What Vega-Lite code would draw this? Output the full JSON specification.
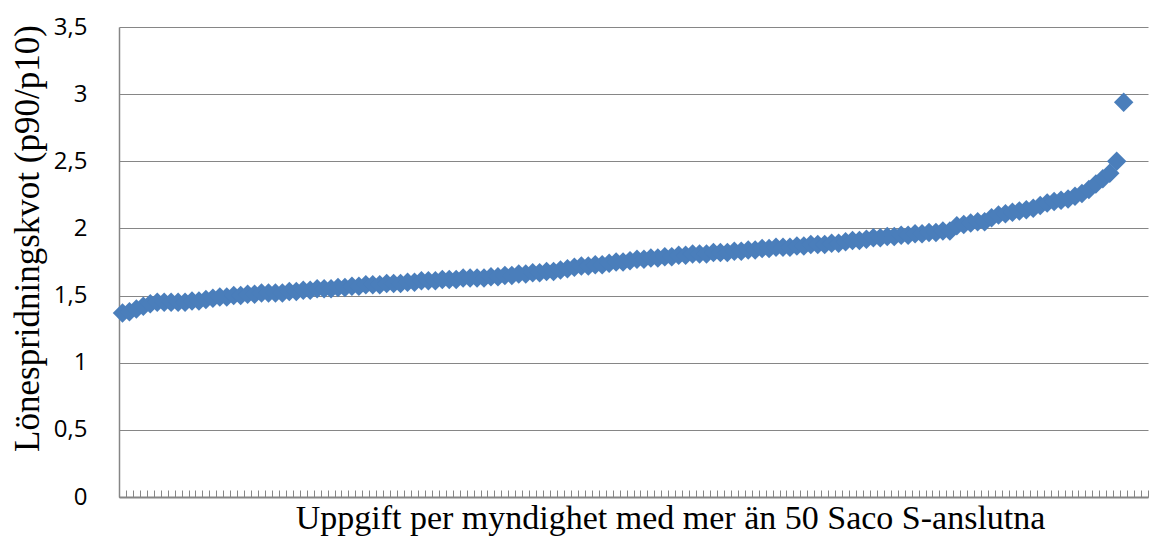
{
  "$schema": "https://vega.github.io/schema/vega-lite/v6.json",
  "autosize": {"type": "none"},
  "width": 1029,
  "height": 470,
  "padding": {"left": 119, "top": 27, "right": 3, "bottom": 41},
  "background": "white",
  "config": {"view": {"stroke": null}},
  "data": {"values": [
    {"i":1,"v":1.37},{"i":2,"v":1.38},{"i":3,"v":1.40},{"i":4,"v":1.42},{"i":5,"v":1.44},{"i":6,"v":1.45},{"i":7,"v":1.45},{"i":8,"v":1.45},{"i":9,"v":1.45},{"i":10,"v":1.45},
    {"i":11,"v":1.46},{"i":12,"v":1.46},{"i":13,"v":1.47},{"i":14,"v":1.48},{"i":15,"v":1.49},{"i":16,"v":1.49},{"i":17,"v":1.50},{"i":18,"v":1.50},{"i":19,"v":1.51},{"i":20,"v":1.51},
    {"i":21,"v":1.52},{"i":22,"v":1.52},{"i":23,"v":1.52},{"i":24,"v":1.52},{"i":25,"v":1.53},{"i":26,"v":1.53},{"i":27,"v":1.54},{"i":28,"v":1.54},{"i":29,"v":1.55},{"i":30,"v":1.55},
    {"i":31,"v":1.55},{"i":32,"v":1.56},{"i":33,"v":1.56},{"i":34,"v":1.57},{"i":35,"v":1.57},{"i":36,"v":1.58},{"i":37,"v":1.58},{"i":38,"v":1.58},{"i":39,"v":1.59},{"i":40,"v":1.59},
    {"i":41,"v":1.59},{"i":42,"v":1.60},{"i":43,"v":1.60},{"i":44,"v":1.61},{"i":45,"v":1.61},{"i":46,"v":1.61},{"i":47,"v":1.62},{"i":48,"v":1.62},{"i":49,"v":1.62},{"i":50,"v":1.63},
    {"i":51,"v":1.63},{"i":52,"v":1.63},{"i":53,"v":1.63},{"i":54,"v":1.64},{"i":55,"v":1.64},{"i":56,"v":1.65},{"i":57,"v":1.65},{"i":58,"v":1.66},{"i":59,"v":1.66},{"i":60,"v":1.67},
    {"i":61,"v":1.67},{"i":62,"v":1.68},{"i":63,"v":1.68},{"i":64,"v":1.69},{"i":65,"v":1.70},{"i":66,"v":1.71},{"i":67,"v":1.72},{"i":68,"v":1.72},{"i":69,"v":1.73},{"i":70,"v":1.73},
    {"i":71,"v":1.74},{"i":72,"v":1.75},{"i":73,"v":1.75},{"i":74,"v":1.76},{"i":75,"v":1.77},{"i":76,"v":1.77},{"i":77,"v":1.78},{"i":78,"v":1.78},{"i":79,"v":1.79},{"i":80,"v":1.79},
    {"i":81,"v":1.80},{"i":82,"v":1.80},{"i":83,"v":1.81},{"i":84,"v":1.81},{"i":85,"v":1.81},{"i":86,"v":1.82},{"i":87,"v":1.82},{"i":88,"v":1.82},{"i":89,"v":1.83},{"i":90,"v":1.83},
    {"i":91,"v":1.84},{"i":92,"v":1.84},{"i":93,"v":1.85},{"i":94,"v":1.85},{"i":95,"v":1.86},{"i":96,"v":1.86},{"i":97,"v":1.86},{"i":98,"v":1.87},{"i":99,"v":1.87},{"i":100,"v":1.88},
    {"i":101,"v":1.88},{"i":102,"v":1.88},{"i":103,"v":1.89},{"i":104,"v":1.89},{"i":105,"v":1.90},{"i":106,"v":1.91},{"i":107,"v":1.91},{"i":108,"v":1.92},{"i":109,"v":1.93},{"i":110,"v":1.93},
    {"i":111,"v":1.94},{"i":112,"v":1.94},{"i":113,"v":1.95},{"i":114,"v":1.95},{"i":115,"v":1.96},{"i":116,"v":1.96},{"i":117,"v":1.97},{"i":118,"v":1.97},{"i":119,"v":1.98},{"i":120,"v":1.98},
    {"i":121,"v":2.02},{"i":122,"v":2.03},{"i":123,"v":2.04},{"i":124,"v":2.05},{"i":125,"v":2.05},{"i":126,"v":2.08},{"i":127,"v":2.10},{"i":128,"v":2.11},{"i":129,"v":2.12},{"i":130,"v":2.13},
    {"i":131,"v":2.14},{"i":132,"v":2.15},{"i":133,"v":2.17},{"i":134,"v":2.19},{"i":135,"v":2.20},{"i":136,"v":2.21},{"i":137,"v":2.22},{"i":138,"v":2.24},{"i":139,"v":2.26},{"i":140,"v":2.29},
    {"i":141,"v":2.33},{"i":142,"v":2.37},{"i":143,"v":2.41},{"i":144,"v":2.50},{"i":145,"v":2.94}
  ]},
  "mark": {"type": "point", "shape": "diamond", "filled": true, "color": "#4A7EBB", "size": 380, "opacity": 1},
  "encoding": {
    "x": {
      "field": "i", "type": "quantitative",
      "scale": {"domain": [0.5, 148.5], "nice": false, "zero": false},
      "axis": {
        "title": "Uppgift per myndighet med mer än 50 Saco S-anslutna",
        "titleFont": "Liberation Serif", "titleFontSize": 34, "titleFontWeight": "normal", "titleColor": "#000000",
        "titleX": 551, "titleY": 21, "titleAlign": "center", "titleBaseline": "middle", "titleAnchor": null,
        "labels": false, "grid": false,
        "values": [0.5,1.5,2.5,3.5,4.5,5.5,6.5,7.5,8.5,9.5,10.5,11.5,12.5,13.5,14.5,15.5,16.5,17.5,18.5,19.5,20.5,21.5,22.5,23.5,24.5,25.5,26.5,27.5,28.5,29.5,30.5,31.5,32.5,33.5,34.5,35.5,36.5,37.5,38.5,39.5,40.5,41.5,42.5,43.5,44.5,45.5,46.5,47.5,48.5,49.5,50.5,51.5,52.5,53.5,54.5,55.5,56.5,57.5,58.5,59.5,60.5,61.5,62.5,63.5,64.5,65.5,66.5,67.5,68.5,69.5,70.5,71.5,72.5,73.5,74.5,75.5,76.5,77.5,78.5,79.5,80.5,81.5,82.5,83.5,84.5,85.5,86.5,87.5,88.5,89.5,90.5,91.5,92.5,93.5,94.5,95.5,96.5,97.5,98.5,99.5,100.5,101.5,102.5,103.5,104.5,105.5,106.5,107.5,108.5,109.5,110.5,111.5,112.5,113.5,114.5,115.5,116.5,117.5,118.5,119.5,120.5,121.5,122.5,123.5,124.5,125.5,126.5,127.5,128.5,129.5,130.5,131.5,132.5,133.5,134.5,135.5,136.5,137.5,138.5,139.5,140.5,141.5,142.5,143.5,144.5,145.5,146.5,147.5,148.5],
        "ticks": true, "tickSize": -7, "tickColor": "#868686", "tickWidth": 1,
        "domainColor": "#868686", "domainWidth": 2
      }
    },
    "y": {
      "field": "v", "type": "quantitative",
      "scale": {"domain": [0, 3.5], "nice": false},
      "axis": {
        "title": "Lönespridningskvot (p90/p10)",
        "titleFont": "Liberation Serif", "titleFontSize": 35, "titleFontWeight": "normal", "titleColor": "#000000",
        "titleX": -92, "titleY": 211, "titleAngle": -90, "titleAlign": "center", "titleBaseline": "middle", "titleAnchor": null,
        "values": [0, 0.5, 1, 1.5, 2, 2.5, 3, 3.5],
        "labelExpr": "replace(format(datum.value, '.1~f'), '.', ',')",
        "labelFont": "Open Sans", "labelFontSize": 24, "labelColor": "#000000",
        "labelPadding": 32, "ticks": false,
        "grid": true, "gridColor": "#868686", "gridWidth": 1,
        "domainColor": "#868686", "domainWidth": 1.5
      }
    }
  }
}
